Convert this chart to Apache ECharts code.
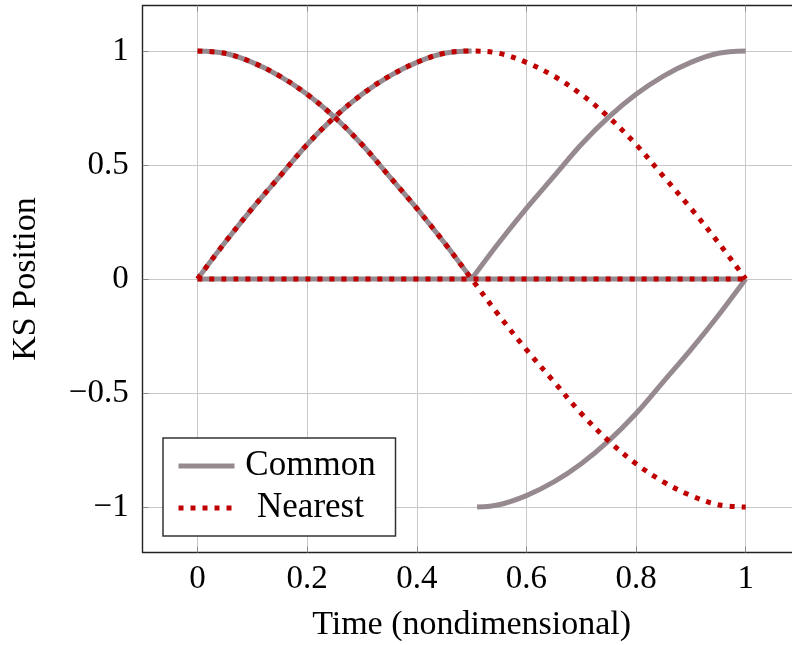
<!DOCTYPE html>
<html>
<head>
<meta charset="utf-8">
<script src="https://cdn.jsdelivr.net/npm/echarts@6/dist/echarts.min.js"></script>
<style>
  html, body { margin: 0; padding: 0; background: #ffffff; }
  #chart { width: 792px; height: 645px; }
</style>
</head>
<body>
<div id="chart"></div>
<script>
// Time samples (nondimensional)
const tFirstHalf  = [0.00, 0.05, 0.10, 0.15, 0.20, 0.25, 0.30, 0.35, 0.40, 0.45, 0.50];
const tSecondHalf = [0.50, 0.55, 0.60, 0.65, 0.70, 0.75, 0.80, 0.85, 0.90, 0.95, 1.00];
const tLowerBranch = [0.51, 0.55, 0.60, 0.65, 0.70, 0.75, 0.80, 0.85, 0.90, 0.95, 1.00];
const tWhole = [0.00, 0.05, 0.10, 0.15, 0.20, 0.25, 0.30, 0.35, 0.40, 0.45, 0.50,
                0.55, 0.60, 0.65, 0.70, 0.75, 0.80, 0.85, 0.90, 0.95, 1.00];
const tZero = [0.00, 1.00];

// "Common" KS positions
const commonFalling = [1.00, 0.99, 0.95, 0.89, 0.81, 0.71, 0.59, 0.45, 0.31, 0.16, 0.00];
const commonRising  = [0.00, 0.16, 0.31, 0.45, 0.59, 0.71, 0.81, 0.89, 0.95, 0.99, 1.00];
const commonUpper   = [0.00, 0.16, 0.31, 0.45, 0.59, 0.71, 0.81, 0.89, 0.95, 0.99, 1.00];
const commonLower   = [-1.00, -0.99, -0.95, -0.89, -0.81, -0.71, -0.59, -0.45, -0.31, -0.16, 0.00];
const commonZero    = [0.00, 0.00];

// "Nearest" KS positions
const nearestFalling = [1.00, 0.99, 0.95, 0.89, 0.81, 0.71, 0.59, 0.45, 0.31, 0.16, 0.00,
                        -0.16, -0.31, -0.45, -0.59, -0.71, -0.81, -0.89, -0.95, -0.99, -1.00];
const nearestArch    = [0.00, 0.16, 0.31, 0.45, 0.59, 0.71, 0.81, 0.89, 0.95, 0.99, 1.00,
                        0.99, 0.95, 0.89, 0.81, 0.71, 0.59, 0.45, 0.31, 0.16, 0.00];
const nearestZero    = [0.00, 0.00];

// Axis ticks
const xTicks = [0, 0.2, 0.4, 0.6, 0.8, 1];
const yTicks = [-1, -0.5, 0, 0.5, 1];

const FONT = 'Liberation Serif';
const GRAY = '#968a90';
const RED = '#c00000';

function pairs(ts, ys) { return ts.map((t, i) => [t, ys[i]]); }

function commonSeries(ts, ys) {
  return {
    name: 'Common', type: 'line', data: pairs(ts, ys),
    symbol: 'none', smooth: 0.35, z: 2,
    lineStyle: { color: GRAY, width: 5, cap: 'butt' },
    itemStyle: { color: GRAY }
  };
}
function nearestSeries(ts, ys) {
  return {
    name: 'Nearest', type: 'line', data: pairs(ts, ys),
    symbol: 'none', smooth: 0.35, z: 3,
    lineStyle: { color: RED, width: 5, type: [5, 7], cap: 'butt' },
    itemStyle: { color: RED }
  };
}

const chart = echarts.init(document.getElementById('chart'), null, { renderer: 'canvas' });

const minus = v => String(v).replace('-', '\u2212');

chart.setOption({
  animation: false,
  backgroundColor: '#ffffff',
  grid: { left: 142.7, top: 5.4, width: 657.8, height: 547.2, containLabel: false, outerBoundsMode: 'none' },
  xAxis: [{
    type: 'value', min: -0.1, max: 1.1, position: 'bottom',
    name: 'Time (nondimensional)', nameLocation: 'middle', nameGap: 55,
    nameTextStyle: { fontFamily: FONT, fontSize: 34, color: '#000' },
    axisLine: { show: true, onZero: false, lineStyle: { color: '#222', width: 1.4 } },
    axisTick: { show: true, inside: true, length: 6, customValues: xTicks, lineStyle: { color: '#888', width: 1 } },
    axisLabel: { customValues: xTicks, margin: 10, fontFamily: FONT, fontSize: 33, color: '#000', formatter: minus },
    splitLine: { show: true, lineStyle: { color: '#c8c8c8', width: 1 } }
  }, {
    type: 'value', min: -0.1, max: 1.1, position: 'top',
    axisLine: { show: true, onZero: false, lineStyle: { color: '#222', width: 1.4 } },
    axisTick: { show: true, inside: true, length: 6, customValues: xTicks, lineStyle: { color: '#888', width: 1 } },
    axisLabel: { show: false },
    splitLine: { show: false }
  }],
  yAxis: [{
    type: 'value', min: -1.2, max: 1.2, position: 'left',
    name: 'KS Position', nameLocation: 'middle', nameGap: 100, nameRotate: 90,
    nameTextStyle: { fontFamily: FONT, fontSize: 34, color: '#000' },
    axisLine: { show: true, onZero: false, lineStyle: { color: '#222', width: 1.4 } },
    axisTick: { show: true, inside: true, length: 6, customValues: yTicks, lineStyle: { color: '#888', width: 1 } },
    axisLabel: { customValues: yTicks, margin: 14, fontFamily: FONT, fontSize: 33, color: '#000', formatter: minus },
    splitLine: { show: true, lineStyle: { color: '#c8c8c8', width: 1 } }
  }],
  legend: {
    orient: 'vertical', left: 163, top: 438,
    padding: [8, 14, 8, 13], itemGap: 2,
    itemWidth: 56, itemHeight: 14,
    backgroundColor: '#ffffff', borderColor: '#333', borderWidth: 1.5, borderRadius: 0,
    data: ['Common', 'Nearest'],
    lineStyle: { width: 5 },
    itemStyle: { color: 'rgba(0,0,0,0)', borderWidth: 0, opacity: 0 },
    formatter: name => '{t|' + name + '}',
    textStyle: {
      fontFamily: FONT, fontSize: 35, color: '#000', lineHeight: 40,
      rich: { t: { fontFamily: FONT, fontSize: 35, color: '#000', width: 142, align: 'center', lineHeight: 40 } }
    }
  },
  series: [
    commonSeries(tZero, commonZero),
    commonSeries(tFirstHalf, commonFalling),
    commonSeries(tFirstHalf, commonRising),
    commonSeries(tSecondHalf, commonUpper),
    commonSeries(tLowerBranch, commonLower),
    nearestSeries(tZero, nearestZero),
    nearestSeries(tWhole, nearestFalling),
    nearestSeries(tWhole, nearestArch)
  ]
});
</script>
</body>
</html>
